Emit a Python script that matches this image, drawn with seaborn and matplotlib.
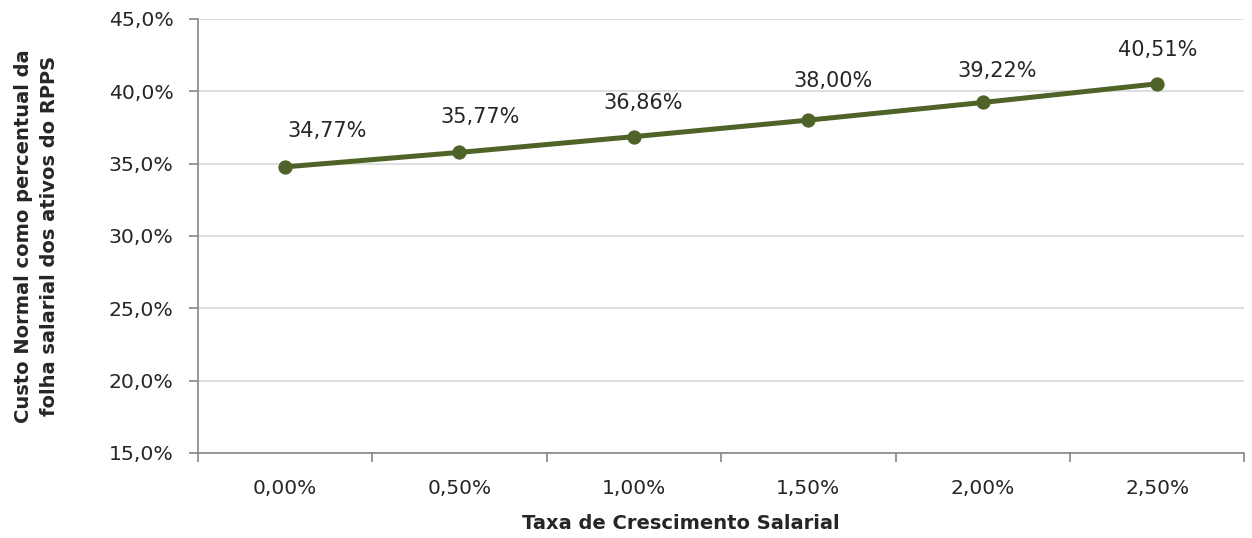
import pandas as pd
import matplotlib.pyplot as plt
import numpy as np
import seaborn as sns

# Data
taxas = ["0,00%", "0,50%", "1,00%", "1,50%", "2,00%", "2,50%"]
custo = [34.77, 35.77, 36.86, 38.00, 39.22, 40.51]
rotulos = ["34,77%", "35,77%", "36,86%", "38,00%", "39,22%", "40,51%"]
y_ticks = [15, 20, 25, 30, 35, 40, 45]

df = pd.DataFrame({"taxa": taxas, "custo": custo})

sns.set_style("white")
plt.rcParams["font.family"] = ["DejaVu Sans"]

green = "#4F6228"
text_col = "#262626"
axis_col = "#868686"

fig = plt.figure(figsize=(12.52, 5.38), dpi=100)
ax = fig.add_axes([0.158, 0.158, 0.836, 0.807])

sns.lineplot(
    data=df, x="taxa", y="custo", sort=False,
    color=green, linewidth=3.6, marker="o", markersize=9.5,
    markeredgecolor=green, ax=ax
)

# data labels, moved by hand in the original so offsets vary a bit
label_offsets = [(42, 36), (21, 35), (9, 34), (25, 39), (14, 31), (0, 34)]
for i, (v, txt) in enumerate(zip(custo, rotulos)):
    dx, dy = label_offsets[i]
    ax.annotate(txt, (i, v), xytext=(dx, dy), textcoords="offset pixels",
                ha="center", va="center", fontsize=15, color=text_col)

ax.set_ylim(15, 45)
ax.set_xlim(-0.5, len(taxas) - 0.5)
ax.set_yticks(y_ticks)
ax.set_yticklabels([f"{t:.1f}%".replace(".", ",") for t in y_ticks])

# category ticks on boundaries, labels at centres
ax.set_xticks(np.arange(-0.5, len(taxas), 1))
ax.set_xticklabels([])
ax.set_xticks(range(len(taxas)), minor=True)
ax.set_xticklabels(taxas, minor=True)

ax.grid(axis="y", color="#d9d9d9", linewidth=1.2)
ax.set_axisbelow(True)

for s in ["top", "right"]:
    ax.spines[s].set_visible(False)
for s in ["left", "bottom"]:
    ax.spines[s].set_color(axis_col)
    ax.spines[s].set_linewidth(1.2)

ax.tick_params(axis="y", which="major", length=6.5, width=1.2, color=axis_col,
               labelsize=14.7, labelcolor=text_col, pad=11, left=True)
ax.tick_params(axis="x", which="major", length=6.5, width=1.2, color=axis_col,
               direction="out", bottom=True)
ax.tick_params(axis="x", which="minor", length=0, labelsize=14.5,
               labelcolor=text_col, pad=19)

ax.set_xlabel("Taxa de Crescimento Salarial", fontsize=14, fontweight="bold",
              color=text_col, va="center")
ax.xaxis.set_label_coords(0.461, -0.163)
ax.set_ylabel("Custo Normal como percentual da\nfolha salarial dos ativos do RPPS",
              fontsize=14, fontweight="bold", color=text_col, linespacing=1.5,
              va="center")
ax.yaxis.set_label_coords(-0.154, 0.5)

plt.savefig("out.png", dpi=100)
